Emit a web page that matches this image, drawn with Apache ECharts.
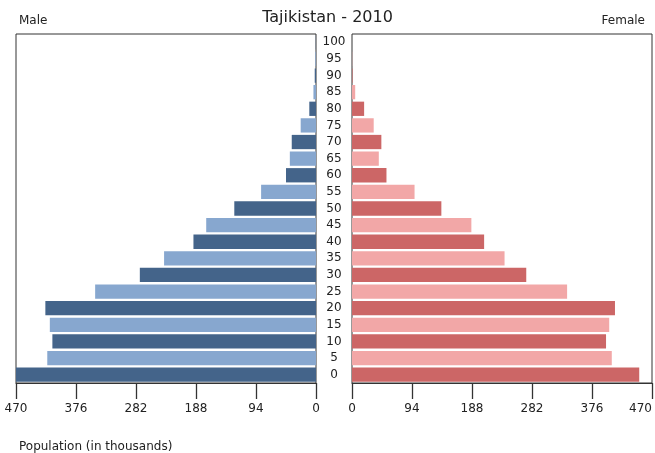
<!DOCTYPE html>
<html><head><meta charset="utf-8">
<script src="https://cdn.jsdelivr.net/npm/echarts@6/dist/echarts.min.js"></script>
<style>html,body{margin:0;padding:0;background:#fff;overflow:hidden;width:655px;height:453px}#c{width:655px;height:453px}</style>
</head><body><div id="c"></div>
<script>
const ages = ['0','5','10','15','20','25','30','35','40','45','50','55','60','65','70','75','80','85','90','95','100'];
const male = [470,421,413,417,424,346,276,238,192,172,128,86,47,41,38,24,10.5,4,2,1,0.3];
const female = [450,407,398,403,412,337,273,239,207,187,140,98,54,42,46,34,19,5,0.8,0.3,0];
const ticks = [0,94,188,282,376,470];
const maleColors = ['#44648a','#87a7cf'];
const femaleColors = ['#cc6666','#f2a7a7'];
const font = 'DejaVu Sans';

const chart = echarts.init(document.getElementById('c'), null, {renderer:'canvas'});
const gridTop = 34, gridH = 349;
function xAxisCommon(alignMax) {
  return {
    type:'value', min:0, max:470, interval:94, z:10,
    axisLine:{show:true, onZero:false, lineStyle:{color:'#333', width:1}}, splitLine:{show:false},
    axisTick:{show:true, inside:false, length:16, interval:0, lineStyle:{color:'#333', width:1.3}},
    axisLabel:{color:'#222', fontFamily:font, fontSize:12, margin:20, showMinLabel:true, showMaxLabel:true, alignMaxLabel:alignMax}
  };
}
chart.setOption({
  animation:false,
  title:[
    {text:'Tajikistan - 2010', left:'center', top:5, textStyle:{fontFamily:font, fontSize:16, fontWeight:'normal', color:'#222'}},
    {text:'Male', left:14, top:10, textStyle:{fontFamily:font, fontSize:12, fontWeight:'normal', color:'#222'}},
    {text:'Female', right:5, top:10, textStyle:{fontFamily:font, fontSize:12, fontWeight:'normal', color:'#222'}},
    {text:'Population (in thousands)', left:14, top:436, textStyle:{fontFamily:font, fontSize:12, fontWeight:'normal', color:'#222'}}
  ],
  grid:[
    {left:16, top:gridTop, width:300, height:gridH, containLabel:false, outerBoundsMode:'none', show:true, borderColor:'#333', borderWidth:1, backgroundColor:'#fff'},
    {left:352, top:gridTop, width:300, height:gridH, containLabel:false, outerBoundsMode:'none', show:true, borderColor:'#333', borderWidth:1, backgroundColor:'#fff'}
  ],
  xAxis:[
    Object.assign({gridIndex:0, inverse:true, position:'bottom'}, xAxisCommon('center')),
    Object.assign({gridIndex:1, position:'bottom'}, xAxisCommon('right'))
  ],
  yAxis:[
    {type:'category', gridIndex:0, data:ages, axisLine:{show:false}, axisTick:{show:false}, axisLabel:{show:false}},
    {type:'category', gridIndex:1, data:ages, position:'left', axisLine:{show:false}, axisTick:{show:false},
     axisLabel:{show:true, align:'center', margin:18, color:'#222', fontFamily:font, fontSize:12, interval:0}}
  ],
  series:[
    {type:'bar', xAxisIndex:0, yAxisIndex:0, data:male, barCategoryGap:'14%',
     itemStyle:{color:p=>maleColors[p.dataIndex%2]}},
    {type:'bar', xAxisIndex:1, yAxisIndex:1, data:female, barCategoryGap:'14%',
     itemStyle:{color:p=>femaleColors[p.dataIndex%2]}}
  ]
});
</script></body></html>
